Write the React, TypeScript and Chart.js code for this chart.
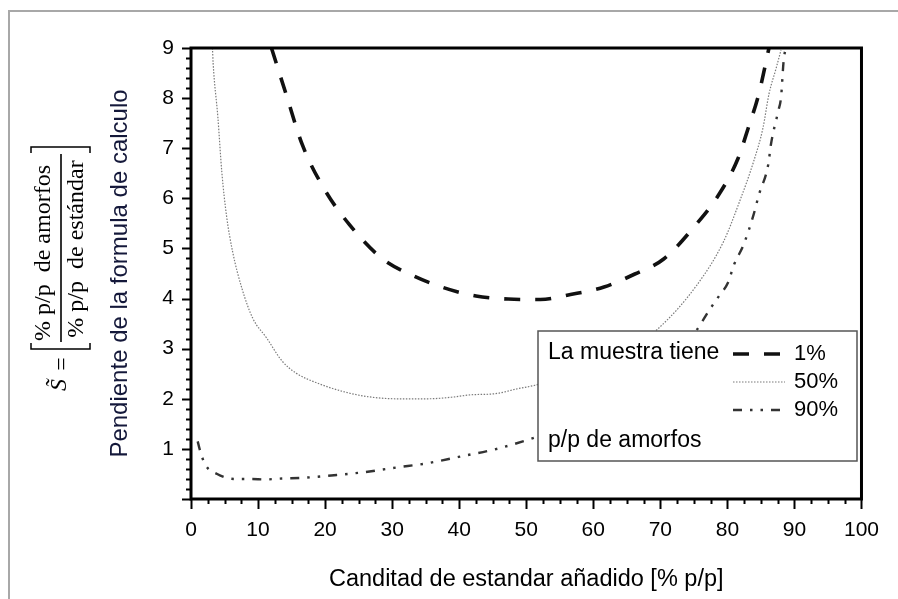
import React, { useEffect, useRef } from "react";
import { Chart, registerables } from "chart.js";

Chart.register(...registerables);

// ---- Data ----
const xTickValues = [0, 10, 20, 30, 40, 50, 60, 70, 80, 90, 100];
const yTickValues = [0, 1, 2, 3, 4, 5, 6, 7, 8, 9];

const legendTitle = "La muestra tiene";
const legendFooter = "p/p de amorfos";
const seriesLabels = ["1%", "50%", "90%"];

const x1 = [12, 14.2, 16.6, 19.9, 23.6, 28.4, 32.9, 37.6, 42.5, 47.3, 52.1, 56.6, 61.6, 66.2, 70.5, 75.4, 78.8, 81.6, 83.1, 84.7, 86.2];
const y1 = [9, 8.07, 7.07, 6.18, 5.48, 4.81, 4.47, 4.22, 4.05, 3.99, 3.98, 4.08, 4.23, 4.49, 4.79, 5.49, 6.09, 6.8, 7.4, 8.09, 9];

const x50 = [3.2, 3.3, 4.0, 4.6, 5.3, 6.2, 7.6, 9.2, 11.3, 13.6, 15.7, 19.1, 23.1, 26.5, 30.5, 35.4, 38.8, 41.8, 45.3, 48.7, 51.3, 55, 60, 65, 69.5, 75.4, 79.4, 81.8, 83.9, 85.3, 86.2, 87.3, 88];
const y50 = [9, 8.7, 7.63, 6.52, 5.65, 4.94, 4.2, 3.61, 3.21, 2.75, 2.51, 2.3, 2.13, 2.04, 2.0, 2.0, 2.03, 2.08, 2.1, 2.2, 2.27, 2.42, 2.68, 2.98, 3.38, 4.26, 5.13, 5.93, 6.73, 7.4, 8.08, 8.61, 8.96];

const x90 = [1.0, 1.3, 2.1, 3.9, 6.5, 9.0, 11.0, 13.6, 16.4, 20.9, 25.5, 30.7, 35.1, 39.9, 45.3, 49.5, 55, 60, 65, 70, 75.4, 77.3, 78.8, 80.1, 81.0, 82.4, 83.9, 84.7, 86.1, 86.5, 87.6, 88.0, 88.4, 88.7];
const y90 = [1.15, 0.99, 0.69, 0.5, 0.4, 0.4, 0.39, 0.41, 0.42, 0.47, 0.53, 0.63, 0.71, 0.84, 0.99, 1.15, 1.4, 1.72, 2.12, 2.65, 3.37, 3.77, 4.06, 4.32, 4.68, 5.07, 5.67, 6.07, 6.68, 7.08, 7.75, 8.01, 8.76, 9];

// ---- Styles ----
const SANS = "'Liberation Sans', Arial, sans-serif";
const SERIF = "'Liberation Serif', 'Times New Roman', serif";

const styles = [
  { color: "#111111", width: 3.6, dash: [16, 15] },
  { color: "#7a7a7a", width: 1.2, dash: [1.5, 1.5] },
  { color: "#333333", width: 2.4, dash: [9, 8, 2.5, 8, 2.5, 8] },
];

const toPts = (xs: number[], ys: number[]) => xs.map((x, i) => ({ x, y: ys[i] }));

function rotText(ctx: CanvasRenderingContext2D, text: string, cx: number, cy: number, font: string) {
  ctx.save();
  ctx.translate(cx, cy);
  ctx.rotate(-Math.PI / 2);
  ctx.font = font;
  ctx.textAlign = "center";
  ctx.textBaseline = "middle";
  ctx.fillText(text, 0, 0);
  ctx.restore();
}

const decor = {
  id: "decor",
  beforeDraw(chart: any) {
    const ctx: CanvasRenderingContext2D = chart.ctx;
    ctx.save();
    ctx.fillStyle = "#ffffff";
    ctx.fillRect(0, 0, chart.width, chart.height);
    ctx.strokeStyle = "#a8a8a8";
    ctx.lineWidth = 2;
    ctx.beginPath();
    ctx.moveTo(9, chart.height);
    ctx.lineTo(9, 11);
    ctx.lineTo(chart.width, 11);
    ctx.stroke();
    ctx.restore();
  },
  afterDraw(chart: any) {
    const ctx: CanvasRenderingContext2D = chart.ctx;
    const { left, right, top, bottom } = chart.chartArea;
    const xs = chart.scales.x;
    const ys = chart.scales.y;
    ctx.save();
    // plot frame
    ctx.strokeStyle = "#000";
    ctx.lineWidth = 3;
    ctx.strokeRect(left, top, right - left, bottom - top);
    // y ticks (major every 1, minor every 0.2)
    ctx.lineWidth = 2;
    for (let i = 0; i <= 45; i++) {
      const v = i * 0.2;
      const py = Math.round(ys.getPixelForValue(v)) + 0.5;
      const len = i % 5 === 0 ? 9 : 5;
      ctx.beginPath();
      ctx.moveTo(left - len, py);
      ctx.lineTo(left, py);
      ctx.stroke();
    }
    // x ticks (major every 10, minor every 2.5)
    for (let i = 0; i <= 40; i++) {
      const v = i * 2.5;
      const px = Math.round(xs.getPixelForValue(v)) + 0.5;
      const len = i % 4 === 0 ? 10 : 5;
      ctx.beginPath();
      ctx.moveTo(px, bottom);
      ctx.lineTo(px, bottom + len);
      ctx.stroke();
    }

    // legend box
    const bx = 538, by = 331, bw = 319, bh = 130;
    ctx.fillStyle = "#fff";
    ctx.fillRect(bx, by, bw, bh);
    ctx.strokeStyle = "#555";
    ctx.lineWidth = 1.5;
    ctx.strokeRect(bx, by, bw, bh);
    ctx.fillStyle = "#000";
    ctx.font = `23px ${SANS}`;
    ctx.textAlign = "left";
    ctx.textBaseline = "middle";
    ctx.fillText(legendTitle, 548, 353);
    ctx.fillText(legendFooter, 548, 441);
    const rowY = [354, 382, 410];
    seriesLabels.forEach((lab, i) => {
      const st = styles[i];
      ctx.save();
      ctx.strokeStyle = st.color;
      ctx.lineWidth = st.width;
      ctx.setLineDash(st.dash);
      ctx.beginPath();
      ctx.moveTo(733, rowY[i]);
      ctx.lineTo(785, rowY[i]);
      ctx.stroke();
      ctx.restore();
      ctx.fillStyle = "#000";
      ctx.font = `22px ${SANS}`;
      ctx.fillText(lab, 794, rowY[i]);
    });

    // formula label S~ = [ %p/p de amorfos / %p/p de estándar ]
    ctx.fillStyle = "#000";
    ctx.strokeStyle = "#000";
    rotText(ctx, "% p/p  de amorfos", 44, 253, `24px ${SERIF}`);
    rotText(ctx, "% p/p  de estándar", 77, 249, `24px ${SERIF}`);
    rotText(ctx, "=", 63, 364, `24px ${SERIF}`);
    rotText(ctx, "S\u0303", 60, 385, `italic 24px ${SERIF}`);
    ctx.lineWidth = 1.6;
    ctx.beginPath();
    ctx.moveTo(61, 154);
    ctx.lineTo(61, 342);
    ctx.stroke();
    // brackets
    ctx.lineWidth = 1.5;
    ctx.beginPath();
    ctx.moveTo(31, 343);
    ctx.lineTo(31, 349);
    ctx.lineTo(90, 349);
    ctx.lineTo(90, 343);
    ctx.moveTo(31, 153);
    ctx.lineTo(31, 147);
    ctx.lineTo(90, 147);
    ctx.lineTo(90, 153);
    ctx.stroke();
    ctx.restore();
  },
};

export default function App() {
  const ref = useRef<HTMLCanvasElement>(null);
  useEffect(() => {
    document.body.style.margin = "0";
    const canvas = ref.current!;
    const chart = new Chart(canvas, {
      type: "scatter",
      data: {
        datasets: [
          { label: seriesLabels[0], data: toPts(x1, y1) },
          { label: seriesLabels[1], data: toPts(x50, y50) },
          { label: seriesLabels[2], data: toPts(x90, y90) },
        ].map((d, i) => ({
          ...d,
          showLine: true,
          pointRadius: 0,
          borderColor: styles[i].color,
          borderWidth: styles[i].width,
          borderDash: styles[i].dash,
          cubicInterpolationMode: "monotone" as const,
          fill: false,
        })),
      },
      options: {
        responsive: false,
        animation: false,
        events: [],
        layout: { padding: { left: 0, top: 48, right: 32, bottom: 0 } },
        plugins: { legend: { display: false }, tooltip: { enabled: false } },
        scales: {
          x: {
            type: "linear",
            min: 0,
            max: 100,
            afterBuildTicks: (s: any) => {
              s.ticks = xTickValues.map((v) => ({ value: v }));
            },
            afterFit: (s: any) => {
              s.height = 100;
            },
            grid: { display: false, drawTicks: false, tickLength: 0 },
            border: { display: false },
            ticks: {
              color: "#000",
              padding: 19,
              maxRotation: 0,
              autoSkip: false,
              font: { family: SANS, size: 21 },
            },
            title: {
              display: true,
              text: "Canditad de estandar añadido [% p/p]",
              color: "#000",
              font: { family: SANS, size: 23.5 },
              padding: { top: 0, bottom: 5 },
            },
          },
          y: {
            type: "linear",
            min: 0,
            max: 9,
            afterBuildTicks: (s: any) => {
              s.ticks = yTickValues.map((v) => ({ value: v }));
            },
            afterFit: (s: any) => {
              s.width = 191;
            },
            grid: { display: false, drawTicks: false, tickLength: 0 },
            border: { display: false },
            ticks: {
              color: "#000",
              padding: 17,
              autoSkip: false,
              font: { family: SANS, size: 21 },
              callback: (v: any) => (v === 0 ? "" : String(v)),
            },
            title: {
              display: true,
              text: "Pendiente de la formula de calculo",
              color: "#14183a",
              font: { family: SANS, size: 24 },
              padding: { top: 106, bottom: 0 },
            },
          },
        },
      },
      plugins: [decor],
    } as any);
    return () => chart.destroy();
  }, []);
  return (
    <div style={{ width: 898, height: 599 }}>
      <canvas ref={ref} width={898} height={599} style={{ display: "block" }} />
    </div>
  );
}
